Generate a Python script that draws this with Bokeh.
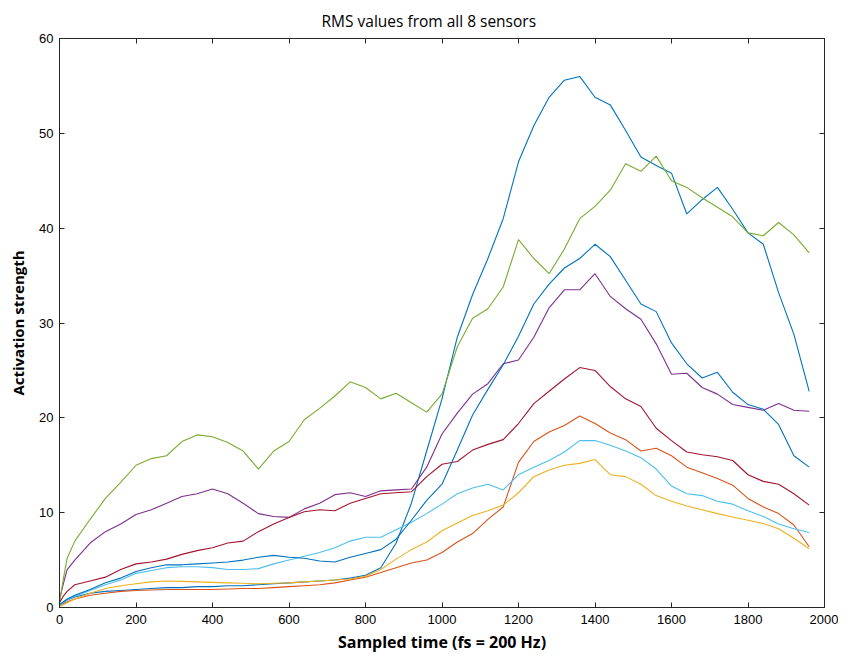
from bokeh.plotting import figure
from bokeh.models import LinearAxis, Range1d, FixedTicker
from bokeh.embed import file_html
from bokeh.resources import INLINE

# Sample positions (samples, fs = 200 Hz)
samples = [0, 10, 20, 40, 80, 120, 160, 200, 240, 280, 320, 360, 400,
           440, 480, 520, 560, 600, 640, 680, 720, 760, 800,
           840, 880, 920, 960, 1000, 1040, 1080, 1120, 1160, 1200,
           1240, 1280, 1320, 1360, 1400, 1440, 1480, 1520, 1560, 1600,
           1640, 1680, 1720, 1760, 1800, 1840, 1880, 1920, 1960]

sensor1 = [0.3, 0.5, 0.8, 1.1, 1.5, 1.7, 1.8, 1.9, 2.0, 2.1, 2.1, 2.2, 2.2,
           2.3, 2.3, 2.4, 2.5, 2.6, 2.7, 2.8, 2.9, 3.1, 3.4,
           4.2, 6.8, 11.0, 16.5, 22.0, 28.5, 33.0, 36.8, 41.0, 47.0,
           50.8, 53.8, 55.6, 56.0, 53.8, 53.0, 50.3, 47.5, 46.6, 45.8,
           41.5, 43.0, 44.3, 42.0, 39.5, 38.3, 33.2, 28.8, 22.8]
sensor2 = [0.2, 0.4, 0.6, 0.9, 1.3, 1.5, 1.7, 1.8, 1.85, 1.9, 1.9, 1.9, 1.9,
           1.95, 2.0, 2.0, 2.1, 2.2, 2.3, 2.4, 2.6, 2.9, 3.2,
           3.7, 4.2, 4.7, 5.0, 5.8, 6.9, 7.8, 9.3, 10.6, 15.3,
           17.5, 18.5, 19.2, 20.2, 19.4, 18.4, 17.7, 16.5, 16.8, 16.0,
           14.8, 14.2, 13.6, 12.9, 11.5, 10.6, 9.9, 8.7, 6.4]
sensor3 = [0.1, 0.3, 0.5, 0.9, 1.5, 2.0, 2.3, 2.5, 2.7, 2.8, 2.75, 2.7, 2.65,
           2.6, 2.55, 2.5, 2.55, 2.6, 2.7, 2.8, 2.9, 3.0, 3.3,
           4.0, 5.1, 6.1, 6.9, 8.1, 8.9, 9.7, 10.2, 10.8, 12.1,
           13.8, 14.5, 15.0, 15.2, 15.6, 14.0, 13.8, 13.0, 11.8, 11.2,
           10.7, 10.3, 9.9, 9.55, 9.2, 8.85, 8.3, 7.3, 6.2]
sensor4 = [0.8, 2.5, 4.0, 5.0, 6.8, 8.0, 8.8, 9.8, 10.3, 11.0, 11.7, 12.0, 12.5,
           12.0, 11.0, 9.9, 9.6, 9.5, 10.4, 11.0, 11.9, 12.1, 11.7,
           12.3, 12.4, 12.5, 14.8, 18.3, 20.5, 22.5, 23.6, 25.7, 26.1,
           28.5, 31.6, 33.5, 33.5, 35.2, 32.8, 31.5, 30.4, 27.8, 24.6,
           24.7, 23.2, 22.5, 21.4, 21.1, 20.8, 21.5, 20.8, 20.7]
sensor5 = [0.5, 3.0, 5.2, 7.0, 9.3, 11.5, 13.2, 15.0, 15.7, 16.0, 17.5, 18.2, 18.0,
           17.4, 16.5, 14.6, 16.5, 17.5, 19.8, 21.0, 22.3, 23.8, 23.2,
           22.0, 22.6, 21.6, 20.6, 22.5, 27.5, 30.5, 31.5, 33.8, 38.8,
           36.8, 35.2, 37.8, 41.0, 42.3, 44.0, 46.8, 46.0, 47.6, 45.0,
           44.3, 43.2, 42.2, 41.2, 39.5, 39.2, 40.6, 39.3, 37.4]
sensor6 = [0.2, 0.5, 0.8, 1.2, 1.8, 2.4, 2.9, 3.6, 3.9, 4.2, 4.3, 4.3, 4.2,
           4.0, 4.0, 4.1, 4.6, 5.0, 5.4, 5.8, 6.3, 7.0, 7.4,
           7.4, 8.2, 9.0, 9.9, 10.9, 12.0, 12.6, 13.0, 12.4, 14.0,
           14.8, 15.5, 16.4, 17.6, 17.6, 17.1, 16.5, 15.8, 14.6, 12.8,
           12.0, 11.8, 11.2, 10.9, 10.2, 9.6, 8.8, 8.3, 7.9]
sensor7 = [0.5, 1.2, 1.7, 2.4, 2.8, 3.2, 4.0, 4.6, 4.8, 5.1, 5.6, 6.0, 6.3,
           6.8, 7.0, 8.0, 8.8, 9.5, 10.1, 10.3, 10.2, 11.0, 11.5,
           12.0, 12.1, 12.2, 13.8, 15.1, 15.4, 16.6, 17.2, 17.7, 19.4,
           21.5, 22.8, 24.1, 25.3, 25.0, 23.3, 22.0, 21.2, 18.9, 17.6,
           16.4, 16.1, 15.9, 15.5, 14.0, 13.3, 13.0, 12.0, 10.8]
sensor8 = [0.3, 0.6, 0.9, 1.3, 1.9, 2.6, 3.1, 3.8, 4.2, 4.5, 4.5, 4.6, 4.7,
           4.8, 5.0, 5.3, 5.5, 5.3, 5.2, 4.9, 4.8, 5.3, 5.7,
           6.1, 7.2, 9.2, 11.3, 13.0, 16.6, 20.3, 23.0, 25.6, 28.6,
           32.0, 34.1, 35.8, 36.8, 38.3, 37.0, 34.5, 32.0, 31.2, 27.9,
           25.7, 24.2, 24.8, 22.7, 21.4, 20.9, 19.3, 16.0, 14.8]

series = [sensor1, sensor2, sensor3, sensor4, sensor5, sensor6, sensor7, sensor8]
colors = ["#0072BD", "#D95319", "#EDB120", "#7E2F8E",
          "#77AC30", "#4DBEEE", "#A2142F", "#0072BD"]

x_ticks = [0, 200, 400, 600, 800, 1000, 1200, 1400, 1600, 1800, 2000]
y_ticks = [0, 10, 20, 30, 40, 50, 60]

AX = "#262626"
TICK_FONT = "Liberation Sans"

p = figure(width=838, height=657,
           x_range=Range1d(0, 2000), y_range=Range1d(0, 60),
           output_backend="svg", toolbar_location=None,
           min_border_left=59, min_border_right=14,
           min_border_top=36, min_border_bottom=50)

p.background_fill_color = "white"
p.border_fill_color = "white"
p.outline_line_color = AX
p.xgrid.visible = False
p.ygrid.visible = False

for s, c in zip(series, colors):
    p.line(samples, s, line_color=c, line_width=1.1)

def style(ax, ticks, show_labels):
    ax.ticker = FixedTicker(ticks=ticks)
    ax.axis_line_color = AX
    ax.major_tick_line_color = AX
    ax.major_tick_in = 5
    ax.major_tick_out = 0
    ax.minor_tick_line_color = None
    ax.major_label_text_font = TICK_FONT
    if show_labels:
        ax.major_label_text_color = "black"
        ax.major_label_text_font_size = "13px"
    else:
        ax.major_label_text_color = None
        ax.major_label_text_font_size = "1px"
        ax.major_label_standoff = 0

style(p.xaxis[0], x_ticks, True)
style(p.yaxis[0], y_ticks, True)
p.xaxis[0].major_label_standoff = 7
p.yaxis[0].major_label_standoff = 6
p.xaxis[0].axis_label = "Sampled time (fs = 200 Hz)"
p.yaxis[0].axis_label = "Activation strength"
for ax in (p.xaxis[0], p.yaxis[0]):
    ax.axis_label_text_font = "Open Sans"
    ax.axis_label_text_font_style = "bold"
    ax.axis_label_text_color = "black"
p.xaxis[0].axis_label_text_font_size = "16px"
p.yaxis[0].axis_label_text_font_size = "15px"
p.xaxis[0].axis_label_standoff = 4
p.yaxis[0].axis_label_standoff = 8

top = LinearAxis()
right = LinearAxis()
style(top, x_ticks, False)
style(right, y_ticks, False)
p.add_layout(top, "above")
p.add_layout(right, "right")

p.title.text = "RMS values from all 8 sensors"
p.title.align = "left"
p.title.offset = 262
p.title.text_font = "Open Sans"
p.title.text_font_style = "normal"
p.title.text_font_size = "15.5px"
p.title.text_color = "black"
p.title.standoff = 14

open("out.html", "w").write(file_html(p, INLINE))
